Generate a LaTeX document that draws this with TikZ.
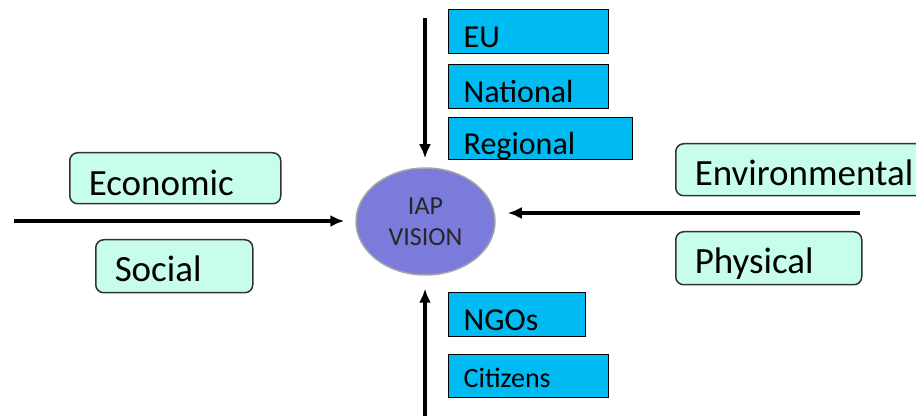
\documentclass[tikz,border=0pt]{standalone}
\usepackage{fontspec}
\setmainfont{Carlito}
\usetikzlibrary{shapes.geometric,arrows.meta}
\definecolor{boxblue}{RGB}{0,186,242}
\definecolor{boxgreen}{RGB}{198,253,236}
\definecolor{visionblue}{RGB}{123,123,220}

\begin{document}
\begin{tikzpicture}[
    x=0.5pt, y=-0.5pt,
    level_box/.style={rectangle,draw=black,line width=0.7pt,fill=boxblue,anchor=north west,
      inner xsep=7.5pt,inner ysep=0pt,minimum height=22pt,align=left,
      text height=15.5pt,text depth=0pt,font=\fontsize{16}{19}\selectfont},
    dim_box/.style={rectangle,rounded corners=4pt,draw=black!80,line width=0.75pt,fill=boxgreen,
      anchor=north west,inner xsep=9.5pt,inner ysep=0pt,minimum height=26pt,align=left,
      text height=15.5pt,text depth=0pt,font=\fontsize{18.5}{22}\selectfont},
    vision/.style={ellipse,draw=gray!70,line width=0.75pt,fill=visionblue,
      minimum width=69.5pt,minimum height=53.5pt,inner sep=0pt,align=center,
      text=black!85,font=\fontsize{13}{15.5}\selectfont},
    flow/.style={line width=1.7pt,-{Latex[length=7pt,width=6pt]}}
  ]
    \useasboundingbox (0,0) rectangle (916,416);
    \clip (0,0) rectangle (916,416);

    % centre
    \node[vision] (vision) at (425.5,221.5) {IAP\\VISION};

    % levels
    \node[level_box,text width=65pt] (eu) at (448,9) {EU};
    \node[level_box,text width=65pt] (national) at (448,64) {National};
    \node[level_box,text width=77pt,minimum height=21pt] (regional) at (448,117) {Regional};
    \node[level_box,text width=53.5pt] (ngos) at (448,292) {NGOs};
    \node[level_box,text width=65pt,minimum height=21.5pt,text height=11.5pt,
      font=\fontsize{14}{17}\selectfont] (citizens) at (448,354) {Citizens};

    % dimensions
    \node[dim_box,text width=86.5pt,minimum height=25.5pt,text height=17.5pt] (economic) at (69,152) {Economic};
    \node[dim_box,text width=59.5pt,minimum height=26.5pt] (social) at (95,239) {Social};
    \node[dim_box,text width=110pt,text height=16pt] (environmental) at (675,143) {Environmental};
    \node[dim_box,text width=74pt,minimum height=26.5pt] (physical) at (675,231) {Physical};

    % arrows
    \coordinate (top_start) at (425,18);
    \coordinate (bottom_start) at (425,416);
    \coordinate (left_start) at (14,221);
    \coordinate (right_start) at (860,213);
    \draw[flow,shorten >=4.5pt] (top_start) -- (top_start |- vision.north);
    \draw[flow,shorten >=6.5pt] (bottom_start) -- (bottom_start |- vision.south);
    \draw[flow,shorten >=5.5pt] (left_start) -- (left_start -| vision.west);
    \draw[flow,shorten >=6pt] (right_start) -- (right_start -| vision.east);
  \end{tikzpicture}
\end{document}
